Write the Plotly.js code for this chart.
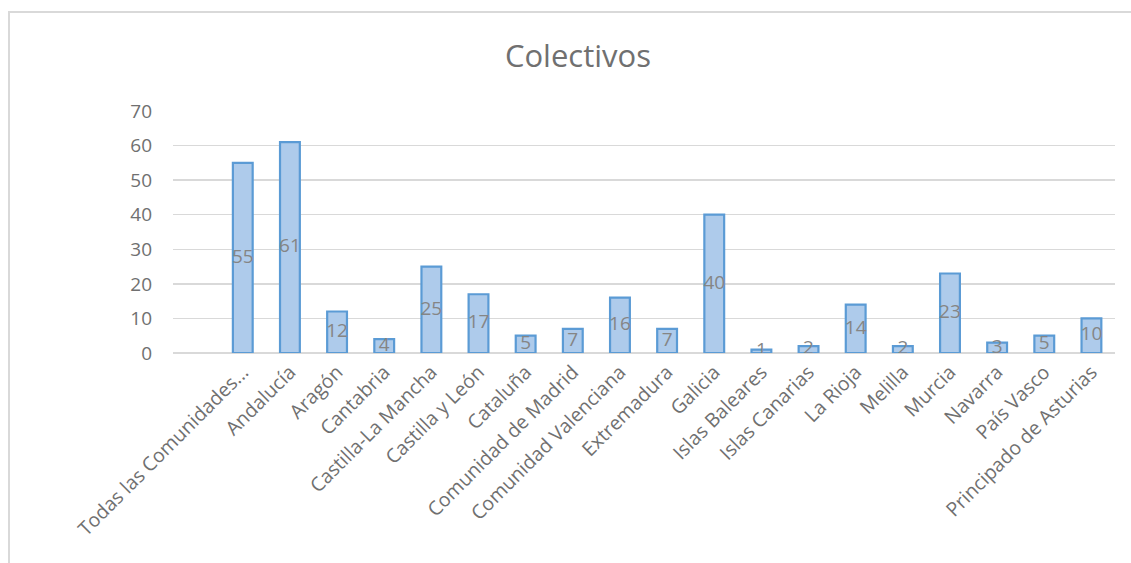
<!DOCTYPE html>
<html>
<head>
<meta charset="utf-8">
<script src="https://cdn.plot.ly/plotly-3.0.1.min.js"></script>
<style>
html,body{margin:0;padding:0;background:#fff;}
#wrap{position:relative;width:1131px;height:563px;overflow:hidden;}
#chart{width:1131px;height:563px;}
#frame{position:absolute;left:8px;top:11px;width:1140px;height:600px;border-left:2px solid #d9d9d9;border-top:2px solid #d9d9d9;pointer-events:none;}
</style>
</head>
<body>
<div id="wrap"><div id="chart"></div><div id="frame"></div></div>
<script>
const categories = ["Todas las Comunidades...", "Andalucía", "Aragón", "Cantabria", "Castilla-La Mancha", "Castilla y León", "Cataluña", "Comunidad de Madrid", "Comunidad Valenciana", "Extremadura", "Galicia", "Islas Baleares", "Islas Canarias", "La Rioja", "Melilla", "Murcia", "Navarra", "País Vasco", "Principado de Asturias"];
const values = [55, 61, 12, 4, 25, 17, 5, 7, 16, 7, 40, 1, 2, 14, 2, 23, 3, 5, 10];
const yTicks = [0, 10, 20, 30, 40, 50, 60, 70];
const chartTitle = "Colectivos";

const FONT = "'Open Sans', 'Noto Sans', sans-serif";
const idx = categories.map((c, i) => i);

const bars = {
  type: 'bar',
  x: idx,
  y: values,
  width: 0.42,
  marker: {color: '#aecbeb', line: {color: '#5b9bd5', width: 2.2}},
  hoverinfo: 'none'
};
const labels = {
  type: 'scatter',
  mode: 'text',
  x: idx,
  y: values.map(v => v / 2),
  text: values.map(String),
  textposition: 'middle center',
  textfont: {family: FONT, size: 19, color: '#858585'},
  hoverinfo: 'none'
};

const layout = {
  width: 1131, height: 563,
  margin: {l: 173, r: 16, t: 111, b: 210},
  paper_bgcolor: 'rgba(0,0,0,0)',
  plot_bgcolor: 'rgba(0,0,0,0)',
  showlegend: false,
  title: {text: chartTitle, x: 0.511, xanchor: 'center', y: 0.9, yanchor: 'middle',
          font: {family: FONT, size: 31, color: '#707070'}},
  xaxis: {
    range: [-1.48, 18.5],
    tickmode: 'array', tickvals: idx, ticktext: categories,
    tickangle: -45,
    tickfont: {family: FONT, size: 19.5, color: '#707070'},
    ticklabelstandoff: 3,
    showgrid: false, zeroline: false, showline: false, ticks: '',
    fixedrange: true
  },
  yaxis: {
    range: [0, 70],
    tickmode: 'array', tickvals: yTicks,
    tickfont: {family: FONT, size: 19, color: '#707070'},
    showgrid: true, gridcolor: '#d9d9d9', gridwidth: 1.5,
    zeroline: true, zerolinecolor: '#d9d9d9', zerolinewidth: 1.5,
    showline: false, ticks: '', ticklen: 0,
    ticklabelstandoff: 20,
    fixedrange: true
  }
};
Plotly.newPlot('chart', [bars, labels], layout, {displayModeBar: false, staticPlot: true});
</script>
</body>
</html>
